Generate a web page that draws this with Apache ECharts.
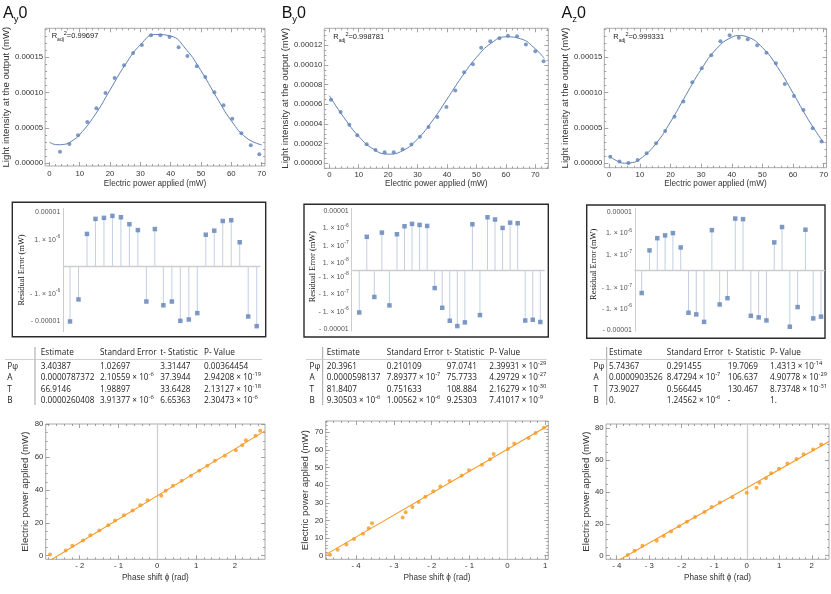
<!DOCTYPE html>
<html>
<head>
<meta charset="utf-8">
<script src="https://cdn.jsdelivr.net/npm/echarts@6.0.0/dist/echarts.min.js"></script>
<style>
html,body{margin:0;padding:0;background:#ffffff;}
#chart{width:831px;height:594px;}
</style>
</head>
<body>
<div id="chart"></div>
<script>
// ===================== DATA =====================
const panelLetters = ['A', 'B', 'A'];
const panelSubs = ['y', 'y', 'z'];
const panelSuffix = ['0', '0', '0'];
const rAdjSquared = ['0.99697', '0.998781', '0.999331'];

// --- light intensity vs electric power (measured points) ---
const powerAy = [3.5, 6.6, 9.45, 12.5, 15.5, 18.5, 21.5, 24.6, 27.6, 30.5, 33.5, 36.6, 39.6, 42.6, 45.5, 48.6, 51.4, 54.4, 57.4, 60.3, 63.3, 66.4, 69.2];
const intensityAy = [1.65e-5, 2.74e-5, 3.96e-5, 5.85e-5, 7.78e-5, 9.95e-5, 1.208e-4, 1.387e-4, 1.561e-4, 1.675e-4, 1.811e-4, 1.811e-4, 1.788e-4, 1.642e-4, 1.519e-4, 1.373e-4, 1.222e-4, 1.005e-4, 8.2e-5, 6.32e-5, 4.25e-5, 2.55e-5, 1.27e-5];
const powerBy = [0.57, 3.85, 6.8, 9.5, 12.7, 15.7, 18.8, 21.9, 24.9, 27.9, 30.8, 33.7, 36.7, 39.8, 42.8, 45.8, 48.8, 51.6, 54.7, 57.8, 60.7, 63.8, 66.8, 70.0, 72.8];
const intensityBy = [6.47e-5, 5.22e-5, 3.93e-5, 2.85e-5, 1.93e-5, 1.36e-5, 1.12e-5, 1.12e-5, 1.42e-5, 1.9e-5, 2.71e-5, 3.69e-5, 4.71e-5, 5.73e-5, 7.39e-5, 9.25e-5, 1.007e-4, 1.176e-4, 1.241e-4, 1.271e-4, 1.298e-4, 1.292e-4, 1.207e-4, 1.139e-4, 1.037e-4];
const powerAz = [0.32, 3.35, 6.26, 9.29, 12.2, 15.3, 18.25, 21.3, 24.2, 27.1, 30.2, 33.3, 36.3, 39.3, 42.3, 45.2, 48.3, 51.3, 54.4, 57.3, 60.3, 63.4, 66.4, 69.3];
const intensityAz = [0.94e-5, 0.24e-5, 0.05e-5, 0.47e-5, 1.42e-5, 2.83e-5, 4.58e-5, 6.6e-5, 8.73e-5, 11.46e-5, 13.44e-5, 15.28e-5, 17.26e-5, 18.11e-5, 17.78e-5, 17.55e-5, 16.7e-5, 15.66e-5, 14.15e-5, 11.23e-5, 9.53e-5, 7.55e-5, 4.95e-5, 3.07e-5];

// --- fitted curves ---
const fitPowerAy = [0, 2.5, 5, 7.5, 10, 15, 20, 25, 30, 35, 40, 45, 50, 55, 60, 65, 70];
const fitIntensityAy = [3.00e-5, 2.63e-5, 2.69e-5, 3.18e-5, 4.07e-5, 6.83e-5, 10.38e-5, 13.95e-5, 16.77e-5, 18.23e-5, 18.01e-5, 16.16e-5, 13.09e-5, 9.44e-5, 6.01e-5, 3.59e-5, 2.61e-5];
const fitPowerBy = [0, 5, 10, 15, 20, 25, 30, 35, 40, 45, 50, 55, 60, 65, 70, 73];
const fitIntensityBy = [6.88e-5, 4.64e-5, 2.74e-5, 1.44e-5, 0.933e-5, 1.30e-5, 2.48e-5, 4.31e-5, 6.52e-5, 8.78e-5, 10.77e-5, 12.21e-5, 12.86e-5, 12.66e-5, 11.64e-5, 10.66e-5];
const fitPowerAz = [0, 2.5, 5, 7.5, 10, 15, 20, 25, 30, 35, 40, 42.5, 45, 50, 55, 60, 65, 70];
const fitIntensityAz = [1.056e-5, 0.341e-5, 0.018e-5, 0.100e-5, 0.585e-5, 2.657e-5, 5.863e-5, 9.635e-5, 13.29e-5, 16.20e-5, 17.84e-5, 18.07e-5, 17.90e-5, 16.38e-5, 13.57e-5, 9.94e-5, 6.17e-5, 2.90e-5];

// --- residual errors (mW) ---
const residualAy = [-1.0e-5, -1.6e-6, 1.6e-6, 5.6e-6, 6.1e-6, 7.2e-6, 6.4e-6, 3.6e-6, 2.2e-6, -1.9e-6, 2.4e-6, -2.6e-6, -1.9e-6, -9.5e-6, -8.5e-6, -5.0e-6, 1.5e-6, 2.1e-6, 4.7e-6, 5.0e-6, 8.0e-7, -6.6e-6, -1.48e-5];
const residualBy = [-1.1e-6, 3.2e-7, -1.4e-7, 5.6e-7, -4.3e-7, 4.5e-7, 1.3e-6, 1.78e-6, 1.56e-6, 1.36e-6, -4.3e-8, -5.9e-7, -3.3e-6, -6.7e-6, -4.1e-6, 1.7e-6, -1.56e-6, 4.3e-6, 3.2e-6, 1.05e-6, 2.1e-6, 1.95e-6, -3.2e-6, -2.9e-6, -3.9e-6];
const residualAz = [-1.7e-7, 1.6e-7, 6.0e-7, 8.1e-7, 1.04e-6, 2.2e-7, -1.5e-6, -1.8e-6, -4.1e-6, 1.43e-6, -6.0e-7, -3.0e-7, 5.0e-6, 4.7e-6, -2.1e-6, -2.5e-6, -3.5e-6, 3.8e-7, 2.0e-6, -7.0e-6, -8.0e-7, 1.5e-6, -2.8e-6, -2.3e-6];

// --- electric power vs phase shift ---
const phaseAy = [-2.764, -2.361, -2.189, -1.914, -1.725, -1.494, -1.262, -1.090, -0.858, -0.635, -0.438, -0.249, 0.103, 0.215, 0.403, 0.627, 0.867, 1.082, 1.288, 1.485, 1.742, 2.026, 2.189, 2.283, 2.532, 2.652];
const phasePowerAy = [0.8, 3.25, 6.1, 9.3, 12.4, 15.4, 18.5, 21.5, 24.6, 27.6, 30.7, 33.7, 36.5, 39.6, 42.6, 45.7, 48.7, 51.8, 54.8, 57.9, 60.9, 64.2, 67.2, 70.3, 73.1, 76.1];
const phaseBy = [-4.691, -4.489, -4.259, -4.056, -3.818, -3.668, -3.580, -2.769, -2.690, -2.513, -2.346, -2.169, -1.958, -1.772, -1.526, -1.208, -1.014, -0.670, -0.459, -0.362, 0.018, 0.185, 0.564, 0.750, 0.970];
const phasePowerBy = [0.6, 3.4, 6.4, 9.5, 12.5, 15.5, 18.4, 21.6, 24.6, 27.6, 30.5, 33.5, 36.5, 39.3, 42.4, 45.4, 48.4, 51.6, 54.7, 57.7, 60.5, 63.6, 66.8, 69.6, 72.6];
const phaseAz = [-3.66, -3.45, -3.21, -2.77, -2.55, -2.33, -2.08, -1.84, -1.59, -1.30, -1.08, -0.83, -0.44, 0.0, 0.30, 0.39, 0.59, 0.75, 0.99, 1.25, 1.53, 1.75, 2.04, 2.29];
const phasePowerAz = [0.5, 3.1, 6.3, 9.4, 12.3, 15.2, 18.4, 21.3, 24.2, 27.4, 30.5, 33.4, 36.6, 39.5, 42.6, 45.7, 48.5, 51.6, 54.5, 57.7, 60.6, 63.5, 66.6, 69.6];
// fitted lines (end points)
const lineFitPhaseAy = [-2.876, 2.776];
const lineFitPowerAy = [-4.45, 76.0];
const lineFitPhaseBy = [-4.806, 1.085];
const lineFitPowerBy = [0.6, 73.9];
const lineFitPhaseAz = [-4.33, 2.53];
const lineFitPowerAz = [-7.3, 71.5];

// --- tick values and labels ---
const ticksPower = [0, 10, 20, 30, 40, 50, 60, 70];
const tickLabelsPower = ['0', '10', '20', '30', '40', '50', '60', '70'];
const ticksIntensityA = [0, 0.00005, 0.0001, 0.00015];
const tickLabelsIntensityA = ['0.00000', '0.00005', '0.00010', '0.00015'];
const ticksIntensityB = [0, 0.00002, 0.00004, 0.00006, 0.00008, 0.0001, 0.00012];
const tickLabelsIntensityB = ['0.00000', '0.00002', '0.00004', '0.00006', '0.00008', '0.00010', '0.00012'];
const ticksPhaseAy = [-2, -1, 0, 1, 2];
const tickLabelsPhaseAy = ['- 2', '- 1', '0', '1', '2'];
const ticksPhaseBy = [-4, -3, -2, -1, 0, 1];
const tickLabelsPhaseBy = ['- 4', '- 3', '- 2', '- 1', '0', '1'];
const ticksPhaseAz = [-4, -3, -2, -1, 0, 1, 2];
const tickLabelsPhaseAz = ['- 4', '- 3', '- 2', '- 1', '0', '1', '2'];
const ticksPower80 = [0, 20, 40, 60, 80];
const tickLabelsPower80 = ['0', '20', '40', '60', '80'];
const ticksPower70 = [0, 10, 20, 30, 40, 50, 60, 70];
const tickLabelsPower70 = ['0', '10', '20', '30', '40', '50', '60', '70'];
const residualTickExponents = [-5, -6, -7, -8];
const residualTickLabels = ['0.00001', '1. × 10^-6', '1. × 10^-7', '1. × 10^-8'];

// --- fit tables ---
const tableHeader = ['Estimate', 'Standard Error', 't- Statistic', 'P- Value'];
const tableRowNames = ['Pφ', 'A', 'T', 'B'];
const tableAy = [
  ['3.40387', '1.02697', '3.31447', '0.00364454'],
  ['0.0000787372', '2.10559 × 10^-6', '37.3944', '2.94208 × 10^-19'],
  ['66.9146', '1.98897', '33.6428', '2.13127 × 10^-18'],
  ['0.0000260408', '3.91377 × 10^-6', '6.65363', '2.30473 × 10^-6']
];
const tableBy = [
  ['20.3961', '0.210109', '97.0741', '2.39931 × 10^-29'],
  ['0.0000598137', '7.89377 × 10^-7', '75.7733', '4.29729 × 10^-27'],
  ['81.8407', '0.751633', '108.884', '2.16279 × 10^-30'],
  ['9.30503 × 10^-6', '1.00562 × 10^-6', '9.25303', '7.41017 × 10^-9']
];
const tableAz = [
  ['5.74367', '0.291455', '19.7069', '1.4313 × 10^-14'],
  ['0.0000903526', '8.47294 × 10^-7', '106.637', '4.90778 × 10^-29'],
  ['73.9027', '0.566445', '130.467', '8.73748 × 10^-31'],
  ['0.', '1.24562 × 10^-6', '-', '1.']
];

// ===================== STYLE / LAYOUT =====================
const FONT = '"Liberation Sans", Arial, Helvetica, sans-serif';
const TFONT = '"Open Sans", "Noto Sans", sans-serif';
const SERIF = '"Liberation Serif", "Times New Roman", serif';
const BLUE = '#5e81b5', ORANGE = '#f39a26', TEXT = '#333333', FRAME = '#a9a9a9', TICK = '#8c8c8c';

const grids = [], xAxes = [], yAxes = [], series = [], graphics = [];
const zip = (a, b) => a.map((v, i) => [v, b[i]]);

function labelFor(ticks, labels) {
  const tol = Math.abs(ticks[1] - ticks[0]) * 1e-6;
  return function (v) {
    for (let i = 0; i < ticks.length; i++) { if (Math.abs(ticks[i] - v) <= tol) return labels[i]; }
    return '';
  };
}
function minorTicks(min, max, step, majors) {
  const out = []; const tol = step * 1e-6;
  for (let k = Math.ceil(min / step - 1e-9); k * step <= max + tol; k++) {
    const v = parseFloat((k * step).toPrecision(12));
    if (!majors.some(m => Math.abs(m - v) <= tol)) out.push(v);
  }
  return out;
}
function richify(s, n, sup) {
  const m = s.match(/^(.*)\^(.+)$/);
  if (!m) return '{' + n + '|' + s + '}';
  return '{' + n + '|' + m[1] + '}{' + sup + '|' + m[2] + '}';
}

function framed(o) {
  const gi = grids.length;
  grids.push({ left: o.l, top: o.t, width: o.r - o.l, height: o.b - o.t, show: true, borderColor: FRAME, borderWidth: 1, backgroundColor: 'rgba(0,0,0,0)' });
  const xMinor = minorTicks(o.xMin, o.xMax, o.xMinorStep, o.xTicks);
  const yMinor = minorTicks(o.yMin, o.yMax, o.yMinorStep, o.yTicks);
  const common = { gridIndex: gi, type: 'value', axisLine: { show: false, onZero: false }, splitLine: { show: false } };
  const tk = (vals, len) => ({ show: true, inside: true, length: len, customValues: vals, lineStyle: { color: TICK, width: 0.8 } });
  const xi = xAxes.length;
  xAxes.push(Object.assign({}, common, {
    position: 'bottom', min: o.xMin, max: o.xMax, axisTick: tk(o.xTicks, 4),
    axisLabel: { show: true, customValues: o.xTicks, formatter: labelFor(o.xTicks, o.xLabels), fontFamily: FONT, fontSize: 7.8, color: TEXT, margin: o.xMargin },
    name: o.xName, nameLocation: 'middle', nameGap: o.xNameGap, nameTextStyle: { fontFamily: FONT, fontSize: 8.2, color: TEXT }
  }));
  xAxes.push(Object.assign({}, common, { position: 'bottom', min: o.xMin, max: o.xMax, axisTick: tk(xMinor, 2), axisLabel: { show: false } }));
  xAxes.push(Object.assign({}, common, { position: 'top', min: o.xMin, max: o.xMax, axisTick: tk(o.xTicks, 4), axisLabel: { show: false } }));
  xAxes.push(Object.assign({}, common, { position: 'top', min: o.xMin, max: o.xMax, axisTick: tk(xMinor, 2), axisLabel: { show: false } }));
  const yi = yAxes.length;
  yAxes.push(Object.assign({}, common, {
    position: 'left', min: o.yMin, max: o.yMax, axisTick: tk(o.yTicks, 4),
    axisLabel: { show: true, customValues: o.yTicks, formatter: labelFor(o.yTicks, o.yLabels), fontFamily: FONT, fontSize: 7.8, color: TEXT, margin: o.yMargin },
    name: o.yName, nameLocation: 'middle', nameGap: o.yNameGap, nameTextStyle: { fontFamily: FONT, fontSize: 9.6, color: TEXT }
  }));
  yAxes.push(Object.assign({}, common, { position: 'left', min: o.yMin, max: o.yMax, axisTick: tk(yMinor, 2), axisLabel: { show: false } }));
  yAxes.push(Object.assign({}, common, { position: 'right', min: o.yMin, max: o.yMax, axisTick: tk(o.yTicks, 4), axisLabel: { show: false } }));
  yAxes.push(Object.assign({}, common, { position: 'right', min: o.yMin, max: o.yMax, axisTick: tk(yMinor, 2), axisLabel: { show: false } }));
  return { xi, yi };
}

const resRich = {
  n: { fontFamily: FONT, fontSize: 7, color: '#555', lineHeight: 11, verticalAlign: 'middle' },
  s: { fontFamily: FONT, fontSize: 5, color: '#555', lineHeight: 5, verticalAlign: 'top' }
};
function residualLabel(neg) {
  return function (v) {
    const l = Math.log10(v); const e = Math.round(l);
    if (Math.abs(l - e) > 0.02) return '';
    const i = residualTickExponents.indexOf(e);
    if (i < 0) return '';
    return richify((neg ? '- ' : '') + residualTickLabels[i], 'n', 's');
  };
}
function residualPlot(o, res) {
  const gp = grids.length;
  grids.push({ left: o.axisX, top: o.topY, width: o.rightX - o.axisX, height: o.zeroY - o.topY });
  const gn = grids.length;
  grids.push({ left: o.axisX, top: o.zeroY, width: o.rightX - o.axisX, height: o.bottomY - o.zeroY });
  const xp = xAxes.length;
  xAxes.push({ gridIndex: gp, type: 'value', min: o.xMin, max: o.xMax, position: 'bottom', axisLine: { show: true, onZero: false, lineStyle: { color: '#cdcdcd', width: 1.3 } }, axisTick: { show: false }, axisLabel: { show: false }, splitLine: { show: false } });
  const xn = xAxes.length;
  xAxes.push({ gridIndex: gn, type: 'value', min: o.xMin, max: o.xMax, position: 'bottom', axisLine: { show: false, onZero: false }, axisTick: { show: false }, axisLabel: { show: false }, splitLine: { show: false } });
  const posMin = Math.pow(10, o.zeroLogPos), negMin = Math.pow(10, o.zeroLogNeg);
  const yp = yAxes.length;
  yAxes.push({ gridIndex: gp, type: 'log', logBase: 10, min: posMin, max: Math.pow(10, o.topLog), axisLine: { show: true, onZero: false, lineStyle: { color: '#cdcdcd' } }, axisTick: { show: false }, splitLine: { show: false }, minorTick: { show: false },
    axisLabel: { formatter: residualLabel(false), rich: resRich, margin: 3, showMinLabel: false, showMaxLabel: false } });
  const yn = yAxes.length;
  yAxes.push({ gridIndex: gn, type: 'log', logBase: 10, inverse: true, min: negMin, max: Math.pow(10, o.bottomLog), axisLine: { show: true, onZero: false, lineStyle: { color: '#cdcdcd' } }, axisTick: { show: false }, splitLine: { show: false }, minorTick: { show: false },
    axisLabel: { formatter: residualLabel(true), rich: resRich, margin: 3, showMinLabel: false, showMaxLabel: false } });
  const pos = [], neg = [];
  res.forEach((r, i) => { if (r > 0) pos.push([i + 1, r]); else neg.push([i + 1, -r]); });
  const stem = (base) => function (params, api) {
    const p1 = api.coord([api.value(0), api.value(1)]);
    const p0 = api.coord([api.value(0), base]);
    return { type: 'line', shape: { x1: p0[0], y1: p0[1], x2: p1[0], y2: p1[1] }, style: { stroke: '#c2cfe4', lineWidth: 1 } };
  };
  series.push({ type: 'custom', xAxisIndex: xp, yAxisIndex: yp, data: pos, encode: { x: 0, y: 1 }, renderItem: stem(posMin), silent: true, z: 1 });
  series.push({ type: 'custom', xAxisIndex: xn, yAxisIndex: yn, data: neg, encode: { x: 0, y: 1 }, renderItem: stem(negMin), silent: true, z: 1 });
  series.push({ type: 'scatter', xAxisIndex: xp, yAxisIndex: yp, data: pos, symbol: 'rect', symbolSize: 4.5, itemStyle: { color: BLUE }, silent: true, z: 3 });
  series.push({ type: 'scatter', xAxisIndex: xn, yAxisIndex: yn, data: neg, symbol: 'rect', symbolSize: 4.5, itemStyle: { color: BLUE }, silent: true, z: 3 });
  graphics.push({ type: 'rect', shape: { x: o.box[0], y: o.box[1], width: o.box[2] - o.box[0], height: o.box[3] - o.box[1] }, style: { fill: 'none', stroke: '#2a2a2a', lineWidth: 1.4 }, silent: true });
  graphics.push({ type: 'text', x: o.label[0], y: o.label[1], rotation: Math.PI / 2, style: { text: 'Residual Error (mW)', fontFamily: SERIF, fontSize: 8.4, fill: '#111', align: 'center', verticalAlign: 'middle' }, silent: true });
}

// ---------- top row: intensity vs power ----------
const topPanels = [
  { l: 45, r: 265, t: 28.3, b: 166, xMin: -1.42, xMax: 71.09, yMin: -3.82e-6, yMax: 1.9105e-4, xMinorStep: 2, yMinorStep: 1e-5,
    xTicks: ticksPower, xLabels: tickLabelsPower, yTicks: ticksIntensityA, yLabels: tickLabelsIntensityA, xNameGap: 13.5, yNameGap: 33, xMargin: 3.5, yMargin: 2,
    px: powerAy, py: intensityAy, fx: fitPowerAy, fy: fitIntensityAy },
  { l: 324.3, r: 548.3, t: 28.3, b: 168.3, xMin: -1.70, xMax: 74.41, yMin: -5.08e-6, yMax: 1.3727e-4, xMinorStep: 2, yMinorStep: 5e-6,
    xTicks: ticksPower, xLabels: tickLabelsPower, yTicks: ticksIntensityB, yLabels: tickLabelsIntensityB, xNameGap: 11.5, yNameGap: 33.8, xMargin: 3, yMargin: 2,
    px: powerBy, py: intensityBy, fx: fitPowerBy, fy: fitIntensityBy },
  { l: 604.3, r: 828.3, t: 28.3, b: 167.7, xMin: -1.62, xMax: 70.94, yMin: -6.2e-6, yMax: 1.9105e-4, xMinorStep: 2, yMinorStep: 1e-5,
    xTicks: ticksPower, xLabels: tickLabelsPower, yTicks: ticksIntensityA, yLabels: tickLabelsIntensityA, xNameGap: 12, yNameGap: 33.8, xMargin: 3, yMargin: 2,
    px: powerAz, py: intensityAz, fx: fitPowerAz, fy: fitIntensityAz }
];
topPanels.forEach(p => {
  p.xName = 'Electric power applied (mW)';
  p.yName = 'Light intensity at the output (mW)';
  const a = framed(p);
  series.push({ type: 'line', xAxisIndex: a.xi, yAxisIndex: a.yi, data: zip(p.fx, p.fy), smooth: 0.5, showSymbol: false, lineStyle: { color: BLUE, width: 1 }, silent: true, z: 2 });
  series.push({ type: 'scatter', xAxisIndex: a.xi, yAxisIndex: a.yi, data: zip(p.px, p.py), symbol: 'circle', symbolSize: 4, itemStyle: { color: BLUE }, silent: true, z: 3 });
});

// ---------- residual row ----------
const residualPanels = [
  { axisX: 63.3, rightX: 260, topY: 208.3, zeroY: 266.7, bottomY: 331.7, zeroLogPos: -6.98, topLog: -4.87, zeroLogNeg: -6.98, bottomLog: -4.63, xMin: 0.21, xMax: 23.39, box: [12.3, 202.3, 265.7, 336.7], label: [21.7, 270] },
  { axisX: 351.7, rightX: 544.3, topY: 208.3, zeroY: 270, bottomY: 331, zeroLogPos: -8.41, topLog: -4.85, zeroLogNeg: -8.41, bottomLog: -4.89, xMin: 0, xMax: 25.53, box: [304, 204.3, 548.3, 337], label: [313.3, 266.7] },
  { axisX: 635, rightX: 824.3, topY: 208.3, zeroY: 270.3, bottomY: 331, zeroLogPos: -7.73, topLog: -4.82, zeroLogNeg: -7.86, bottomLog: -4.95, xMin: 0.14, xMax: 24.42, box: [586.7, 205, 825, 338.3], label: [594.3, 264.3] }
];
const residualSets = [residualAy, residualBy, residualAz];
residualPanels.forEach((p, i) => residualPlot(p, residualSets[i]));

// ---------- bottom row: power vs phase ----------
const phasePanels = [
  { l: 45.7, r: 265, t: 424, b: 559.3, xMin: -2.876, xMax: 2.776, yMin: -2.18, yMax: 80.2, xMinorStep: 0.2, yMinorStep: 5,
    xTicks: ticksPhaseAy, xLabels: tickLabelsPhaseAy, yTicks: ticksPower80, yLabels: tickLabelsPower80, xNameGap: 14.5, yNameGap: 12, xMargin: 3, yMargin: 2.4,
    px: phaseAy, py: phasePowerAy, lx: lineFitPhaseAy, ly: lineFitPowerAy },
  { l: 325.7, r: 548.3, t: 421, b: 559.3, xMin: -4.806, xMax: 1.085, yMin: -2.04, yMax: 76.4, xMinorStep: 0.2, yMinorStep: 2,
    xTicks: ticksPhaseBy, xLabels: tickLabelsPhaseBy, yTicks: ticksPower70, yLabels: tickLabelsPower70, xNameGap: 14.5, yNameGap: 12, xMargin: 3, yMargin: 2.4,
    px: phaseBy, py: phasePowerBy, lx: lineFitPhaseBy, ly: lineFitPowerBy },
  { l: 606, r: 829, t: 424, b: 559.3, xMin: -4.33, xMax: 2.53, yMin: -2.26, yMax: 82.5, xMinorStep: 0.2, yMinorStep: 5,
    xTicks: ticksPhaseAz, xLabels: tickLabelsPhaseAz, yTicks: ticksPower80, yLabels: tickLabelsPower80, xNameGap: 14.5, yNameGap: 13.5, xMargin: 3, yMargin: 2.4,
    px: phaseAz, py: phasePowerAz, lx: lineFitPhaseAz, ly: lineFitPowerAz }
];
phasePanels.forEach(p => {
  p.xName = 'Phase shift ϕ (rad)';
  p.yName = 'Electric power applied (mW)';
  const a = framed(p);
  series.push({ type: 'line', xAxisIndex: a.xi, yAxisIndex: a.yi, data: zip(p.lx, p.ly), showSymbol: false, clip: true, lineStyle: { color: ORANGE, width: 1.1 }, silent: true, z: 2,
    markLine: { silent: true, symbol: ['none', 'none'], label: { show: false }, lineStyle: { color: '#cfcfcf', width: 1.3, type: 'solid' }, data: [{ xAxis: 0 }], animation: false, z: 1 } });
  series.push({ type: 'scatter', xAxisIndex: a.xi, yAxisIndex: a.yi, data: zip(p.px, p.py), symbol: 'circle', symbolSize: 4, itemStyle: { color: ORANGE }, silent: true, z: 3 });
});

// ---------- titles and R² ----------
const titleX = [3, 281.7, 561.5];
const rAdjPos = [[51.7, 36], [333.3, 37], [613.3, 37]];
for (let i = 0; i < 3; i++) {
  graphics.push({ type: 'text', x: titleX[i], y: 2.5, silent: true, style: {
    text: '{b|' + panelLetters[i] + '}{s|' + panelSubs[i] + '}{b|' + panelSuffix[i] + '}', align: 'left', verticalAlign: 'top',
    rich: { b: { fontFamily: FONT, fontSize: 16, fill: '#111', color: '#111', lineHeight: 22, verticalAlign: 'middle' },
            s: { fontFamily: FONT, fontSize: 9.5, fill: '#111', color: '#111', lineHeight: 14, verticalAlign: 'bottom' } } } });
  graphics.push({ type: 'text', x: rAdjPos[i][0], y: rAdjPos[i][1], silent: true, style: {
    text: '{n|R}{sub|adj}{sup|2}{n|=' + rAdjSquared[i] + '}', align: 'left', verticalAlign: 'middle',
    rich: { n: { fontFamily: FONT, fontSize: 7.5, fill: '#222', color: '#222', lineHeight: 12, verticalAlign: 'middle' },
            sub: { fontFamily: FONT, fontSize: 5, fill: '#222', color: '#222', lineHeight: 8, verticalAlign: 'bottom' },
            sup: { fontFamily: FONT, fontSize: 5.5, fill: '#222', color: '#222', lineHeight: 6, verticalAlign: 'top' } } } });
}

// ---------- tables ----------
const tableLayouts = [
  { nameX: 7.3, colX: [40.7, 100, 160.3, 204], vline: 35, hline: [5, 262] },
  { nameX: 309.5, colX: [326.7, 386.7, 446.7, 489.3], vline: 322.7, hline: [306, 546.7] },
  { nameX: 593.5, colX: [609, 666.7, 727.7, 770], vline: 606.7, hline: [590, 821.7] }
];
const tableSets = [tableAy, tableBy, tableAz];
const headerY = 352.7, rowY = [366.5, 377.8, 389.2, 400.6];
const tRich = {
  n: { fontFamily: TFONT, fontSize: 8.2, fill: '#1a1a1a', color: '#1a1a1a', lineHeight: 12, verticalAlign: 'middle' },
  s: { fontFamily: TFONT, fontSize: 5.8, fill: '#1a1a1a', color: '#1a1a1a', lineHeight: 6, verticalAlign: 'top' }
};
tableLayouts.forEach((t, k) => {
  graphics.push({ type: 'line', silent: true, shape: { x1: t.vline, y1: 347, x2: t.vline, y2: 405 }, style: { stroke: '#8a8a8a', lineWidth: 0.8 } });
  graphics.push({ type: 'line', silent: true, shape: { x1: t.hline[0], y1: 359.5, x2: t.hline[1], y2: 359.5 }, style: { stroke: '#c4c4c4', lineWidth: 0.8 } });
  tableHeader.forEach((h, c) => {
    graphics.push({ type: 'text', x: t.colX[c], y: headerY, silent: true, style: { text: richify(h, 'n', 's'), rich: tRich, align: 'left', verticalAlign: 'middle' } });
  });
  tableRowNames.forEach((rn, r) => {
    graphics.push({ type: 'text', x: t.nameX, y: rowY[r], silent: true, style: { text: richify(rn, 'n', 's'), rich: tRich, align: 'left', verticalAlign: 'middle' } });
    tableSets[k][r].forEach((cell, c) => {
      graphics.push({ type: 'text', x: t.colX[c], y: rowY[r], silent: true, style: { text: richify(cell, 'n', 's'), rich: tRich, align: 'left', verticalAlign: 'middle' } });
    });
  });
});

const chart = echarts.init(document.getElementById('chart'));
chart.setOption({
  animation: false,
  backgroundColor: '#ffffff',
  grid: grids,
  xAxis: xAxes,
  yAxis: yAxes,
  series: series,
  graphic: { elements: graphics }
});
</script>
</body>
</html>
